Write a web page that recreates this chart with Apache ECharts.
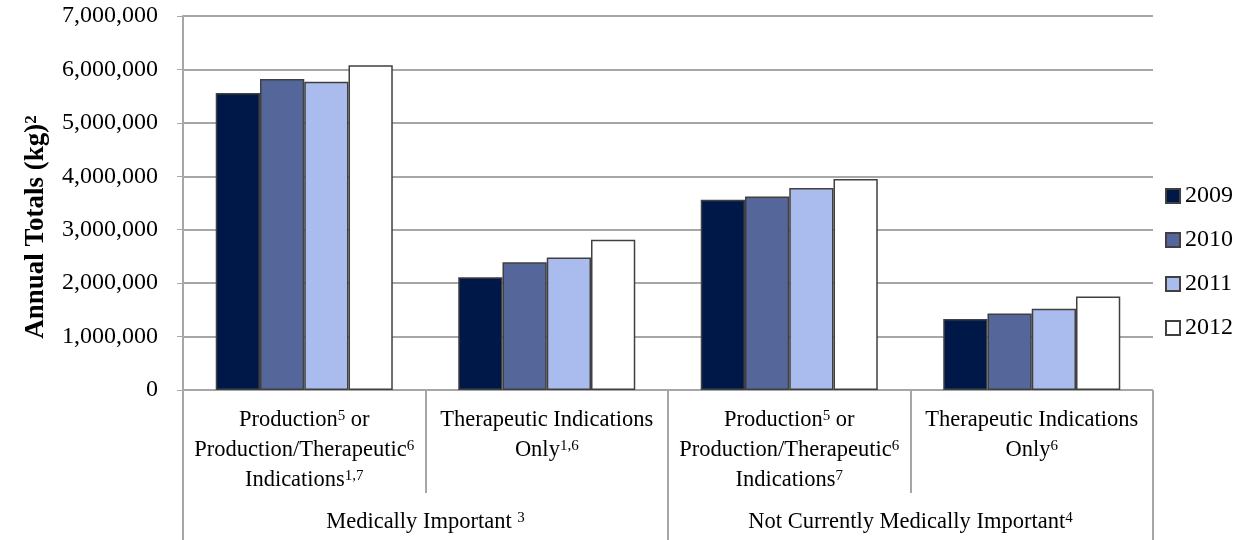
<!DOCTYPE html>
<html>
<head>
<meta charset="utf-8">
<script src="https://cdn.jsdelivr.net/npm/echarts@6/dist/echarts.min.js"></script>
<style>
html,body{margin:0;padding:0;background:#fff;}
#chart{width:1238px;height:540px;}
</style>
</head>
<body>
<div id="chart"></div>
<script>
// ---- data ----
const years = ['2009', '2010', '2011', '2012'];
const categories = [
  'Production{s|5} or\nProduction/Therapeutic{s|6}\nIndications{s|1,7}',
  'Therapeutic Indications\nOnly{s|1,6}',
  'Production{s|5} or\nProduction/Therapeutic{s|6}\nIndications{s|7}',
  'Therapeutic Indications\nOnly{s|6}'
];
const groups = ['Medically Important {s|3}', 'Not Currently Medically Important{s|4}'];
const values2009 = [5560000, 2110000, 3560000, 1330000];
const values2010 = [5820000, 2390000, 3620000, 1430000];
const values2011 = [5770000, 2480000, 3780000, 1520000];
const values2012 = [6080000, 2810000, 3950000, 1750000];
const yTicks = { min: 0, max: 7000000, interval: 1000000 };

const colors = ['#001848', '#55679A', '#AABBEE', '#FFFFFF'];
const FONT = 'Liberation Serif';
const GRAY = '#A6A6A6';

const supStyle = { fontFamily: FONT, fontSize: 15, color: '#000', verticalAlign: 'top', padding: [4, 0, 0, 0] };
const seriesValues = [values2009, values2010, values2011, values2012];
const chart = echarts.init(document.getElementById('chart'));
chart.setOption({
  animation: false,
  textStyle: { fontFamily: FONT },
  grid: { left: 183, right: 85, top: 16, bottom: 150, containLabel: false },
  legend: {
    orient: 'vertical',
    right: 0,
    top: 179,
    itemGap: 20,
    itemWidth: 14,
    itemHeight: 14,
    icon: 'rect',
    data: years,
    textStyle: { fontFamily: FONT, fontSize: 24, color: '#000' }
  },
  xAxis: [
    {
      type: 'category',
      data: categories,
      position: 'bottom',
      axisLine: { show: true, lineStyle: { color: GRAY, width: 1 } },
      axisTick: { show: true, interval: 0, length: 103, lineStyle: { color: GRAY, width: 2 } },
      axisLabel: {
        interval: 0,
        margin: 15,
        color: '#000',
        fontFamily: FONT,
        fontSize: 22.5,
        lineHeight: 30,
        align: 'center',
        rich: { s: supStyle }
      }
    },
    {
      type: 'category',
      data: groups,
      position: 'bottom',
      gridIndex: 0,
      axisLine: { show: false },
      axisTick: { show: true, interval: 0, length: 150, lineStyle: { color: GRAY, width: 2 } },
      axisLabel: {
        interval: 0,
        margin: 117,
        color: '#000',
        fontFamily: FONT,
        fontSize: 22.5,
        lineHeight: 30,
        rich: { s: supStyle }
      }
    }
  ],
  yAxis: {
    type: 'value',
    min: yTicks.min,
    max: yTicks.max,
    interval: yTicks.interval,
    name: 'Annual Totals (kg){s|2}',
    nameLocation: 'middle',
    nameGap: 106,
    nameRotate: 90,
    nameTextStyle: {
      fontFamily: FONT, fontSize: 27, fontWeight: 'bold', color: '#000',
      lineHeight: 30,
      padding: [0, 48, 0, 0],
      rich: { s: { fontFamily: FONT, fontSize: 17, fontWeight: 'bold', color: '#000', verticalAlign: 'top', padding: [2, 0, 0, 0] } }
    },
    axisLine: { show: true, lineStyle: { color: GRAY, width: 2 } },
    axisTick: { show: true, length: 6, lineStyle: { color: GRAY, width: 1 } },
    splitLine: { show: true, lineStyle: { color: GRAY, width: 2 } },
    axisLabel: {
      color: '#000',
      fontFamily: FONT,
      fontSize: 24,
      margin: 25,
      formatter: function (v) { return v.toLocaleString('en-US'); }
    }
  },
  series: years.map(function (y, i) {
    return {
      name: y,
      type: 'bar',
      xAxisIndex: 0,
      data: seriesValues[i],
      barGap: '0%',
      barCategoryGap: '27%',
      itemStyle: { color: colors[i], borderColor: '#404040', borderWidth: 1.5 }
    };
  })
});
</script>
</body>
</html>
